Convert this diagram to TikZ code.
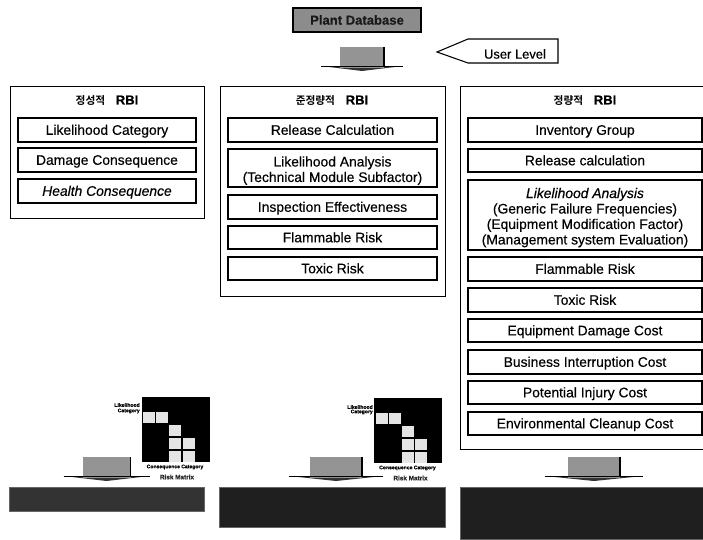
\documentclass[tikz,border=0pt]{standalone}
\usepackage{fontspec}
\setmainfont{Liberation Sans}[FakeBold=0.35]
\newfontfamily\krfont{Noto Sans CJK KR}[BoldFont={* Bold}]
\newcommand{\kr}[1]{{\fontsize{8}{9}\krfont\bfseries #1}\hspace{8pt}}
\newcommand{\lowstrut}{\rule{0pt}{11.5pt}}
\tikzset{
 px/.style={x=0.75pt,y=-0.75pt},
 outer/.style={draw=black,line width=0.8pt,fill=white,inner sep=0pt,anchor=north west},
 inner/.style={draw=black,line width=0.8pt,fill=white,align=center,font=\fontsize{10.4}{11.6}\selectfont,inner sep=0pt},
 single/.style={inner,text depth=0pt,text height=0.72em},
 ttl/.style={font=\fontsize{9.8}{11}\selectfont\bfseries,inner sep=0pt,text depth=0pt},
 dbar/.style={draw=black!60,line width=0.3pt},
 cell/.style={fill=black!10,draw=none},
 tinylab/.style={font=\fontsize{3.8}{5}\selectfont\bfseries,inner sep=0pt},
 risklab/.style={font=\fontsize{4.8}{5}\selectfont\bfseries,inner sep=0pt,text=black!85},
}
\newcommand{\blockarrow}[4]{%
 \fill[black!80] (#1-#4,#2+11) -- (#1+#4,#2+11) -- (#1,#2+16) -- cycle;
 \fill[black!42] (#1-#3,#2-8) rectangle (#1+#3,#2+13);
 \draw[black,line width=0.8pt] (#1+#3,#2-8) -- (#1+#3,#2+12);
 \draw[black,line width=0.7pt] (#1-#4,#2+11) -- (#1+#4,#2+11);
}
\begin{document}
\begin{tikzpicture}[px]
\useasboundingbox (0,0) rectangle (703,539);
% top
\node[fill=black!45,draw=black,line width=1pt,minimum width=128*0.75pt,minimum height=24*0.75pt,inner sep=0pt,font=\fontsize{9.8}{10}\selectfont\bfseries,text=black!90] (db) at (357,20) {Plant Database};
\blockarrow{362}{55}{22}{41}
\coordinate (ua) at (437,52);
\draw[black,line width=0.8pt,fill=white] (ua) -- (468,39) -- (558,39) -- (558,63) -- (468,63) -- cycle;
\node[font=\fontsize{9.7}{10}\selectfont,inner sep=0pt] (ul) at (515,54) {User Level};
% left column
\node[outer,minimum width=194*0.75pt,minimum height=132*0.75pt] (L) at (10,86) {};
\node[ttl] (Lt) at (107,100) {\kr{정성적}RBI};
\node[single,minimum width=178*0.75pt,minimum height=24*0.75pt] (L1) at (107,130) {Likelihood Category};
\node[single,minimum width=178*0.75pt,minimum height=24*0.75pt] (L2) at (107,160) {Damage Consequence};
\node[single,minimum width=178*0.75pt,minimum height=24*0.75pt] (L3) at (107,191) {\itshape Health Consequence};
% middle column
\node[outer,minimum width=225*0.75pt,minimum height=210*0.75pt] (M) at (220,86) {};
\node[ttl] (Mt) at (332,100) {\kr{준정량적}RBI};
\node[single,minimum width=209*0.75pt,minimum height=24*0.75pt] (M1) at (332.5,130) {Release Calculation};
\node[inner,minimum width=209*0.75pt,minimum height=38*0.75pt] (M2) at (332.5,168) {\lowstrut Likelihood Analysis\\(Technical Module Subfactor)};
\node[single,minimum width=209*0.75pt,minimum height=24*0.75pt] (M3) at (332.5,207) {Inspection Effectiveness};
\node[single,minimum width=209*0.75pt,minimum height=23*0.75pt] (M4) at (332.5,237.5) {Flammable Risk};
\node[single,minimum width=209*0.75pt,minimum height=23*0.75pt] (M5) at (332.5,268.5) {Toxic Risk};
% right column
\node[outer,minimum width=244*0.75pt,minimum height=363*0.75pt] (R) at (459.5,86) {};
\node[ttl] (Rt) at (585,100) {\kr{정량적}RBI};
\node[single,minimum width=234*0.75pt,minimum height=24*0.75pt] (R1) at (585,130) {Inventory Group};
\node[single,minimum width=234*0.75pt,minimum height=23*0.75pt] (R2) at (585,160.5) {Release calculation};
\node[inner,minimum width=234*0.75pt,minimum height=70*0.75pt] (R3) at (585,215) {\lowstrut\itshape Likelihood Analysis\\(Generic Failure Frequencies)\\(Equipment Modification Factor)\\(Management system Evaluation)};
\node[single,minimum width=234*0.75pt,minimum height=24*0.75pt] (R4) at (585,269) {Flammable Risk};
\node[single,minimum width=234*0.75pt,minimum height=24*0.75pt] (R5) at (585,300) {Toxic Risk};
\node[single,minimum width=234*0.75pt,minimum height=23*0.75pt] (R6) at (585,330.5) {Equipment Damage Cost};
\node[single,minimum width=234*0.75pt,minimum height=24*0.75pt] (R7) at (585,362) {Business Interruption Cost};
\node[single,minimum width=234*0.75pt,minimum height=23*0.75pt] (R8) at (585,392.5) {Potential Injury Cost};
\node[single,minimum width=234*0.75pt,minimum height=23*0.75pt] (R9) at (585,423.5) {Environmental Cleanup Cost};
% left matrix
\fill[black] (142,397) rectangle (210,462);
\foreach \x/\y in {143/412,156/412,169/425,169/438,183/438,169/451,183/451}
  \fill[cell] (\x,\y) rectangle +(12,11);
\node[tinylab,anchor=east] (Lla) at (140,405) {Likelihood};
\node[tinylab,anchor=east] (Lla2) at (140,411) {Category};
\node[tinylab] (Lca) at (175,467) {Consequence Category};
\node[risklab] (Lrm) at (177,477) {Risk Matrix};
% middle matrix
\fill[black] (374,398) rectangle (442,463);
\foreach \x/\y in {376/413,388.5/413,402/426,402/439,415/439,402/452,415/452}
  \fill[cell] (\x,\y) rectangle +(12,11);
\node[tinylab,anchor=east] (Mla) at (373,407) {Likelihood};
\node[tinylab,anchor=east] (Mla2) at (373,412) {Category};
\node[tinylab] (Mca) at (407.5,468) {Consequence Category};
\node[risklab] (Mrm) at (410.5,478) {Risk Matrix};
% block arrows
\blockarrow{106.5}{465}{24}{43}
\blockarrow{336}{465}{26}{47}
\blockarrow{594}{465}{26}{49}
% bars
\fill[dbar,fill=black!80] (9,487) rectangle (204,511);
\fill[dbar,fill=black!88] (219,487) rectangle (445,527);
\fill[dbar,fill=black!88] (460,487) rectangle (703,539);
\end{tikzpicture}
\end{document}
